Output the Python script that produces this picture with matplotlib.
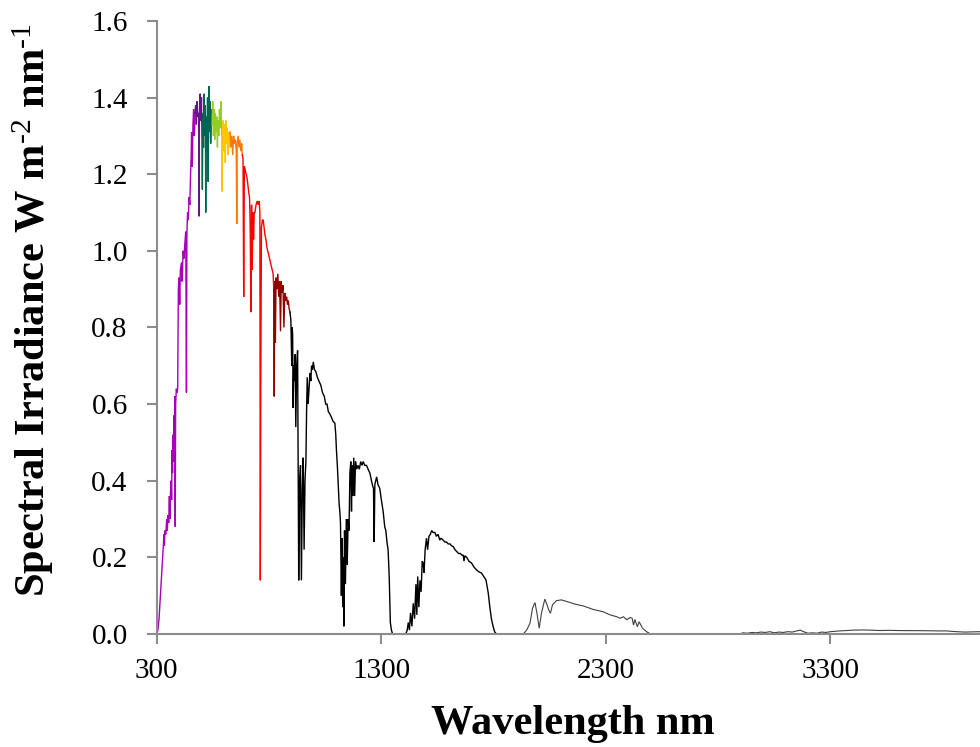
import matplotlib
matplotlib.use("Agg")
import matplotlib.pyplot as plt
import numpy as np

# Spectrum (wavelength nm, irradiance W m^-2 nm^-1)
wavelength = [
    300, 305, 310, 315, 320, 325, 328, 332, 334, 336, 340, 344, 347, 350, 353, 356, 358, 361, 364, 366,
    368, 370, 372, 374, 376, 378, 380, 382, 384, 387, 390, 393, 396, 399, 402, 405, 410, 413, 417, 421,
    425, 429, 432, 434, 437, 440, 444, 447, 450, 453, 455, 458, 461, 464, 467, 470,
    473, 476, 479, 482, 486, 488, 490, 493, 496, 499,
    501, 503, 505, 508, 511, 514, 516, 518, 520, 523, 526, 529, 531, 533, 535, 537, 540, 543,
    546, 549, 552, 555, 558, 561, 564, 567, 570, 573, 576, 579, 582, 585, 588,
    590, 591, 593, 596, 599, 602, 605, 608, 611, 614, 617, 620, 623,
    626, 630, 634, 638, 642, 646, 650, 654, 656, 658, 662, 666, 670, 674, 678,
    681, 684, 687, 690, 694, 698, 702, 706, 710, 713, 716, 719, 722, 725, 728, 731, 734, 737, 742, 747,
    752, 756, 759, 761, 763, 766, 770, 774, 778, 782, 786, 790, 794, 798, 802, 806, 810, 814, 818,
    821, 823, 825, 828, 831, 835, 839, 843, 847, 851, 854, 858, 862, 866, 870, 874, 878, 882, 886, 889,
    893, 897, 901, 903, 905, 907, 910, 913, 916, 919, 923, 927, 929, 932, 936, 940, 944, 948, 952, 956,
    960, 964, 967, 970, 974, 978, 982, 986, 989, 993, 997, 1002, 1008, 1015, 1022, 1030, 1038, 1046,
    1052, 1058, 1064, 1070, 1078, 1085, 1093, 1097, 1100, 1104, 1108, 1112, 1115, 1118, 1122, 1125,
    1128, 1131, 1133, 1136, 1140, 1144, 1148, 1152, 1156, 1160, 1164, 1167, 1170, 1174, 1177, 1181,
    1185, 1190, 1196, 1202, 1208, 1214, 1219, 1226, 1234, 1241, 1249, 1256, 1262, 1265, 1268, 1271,
    1275, 1279, 1285, 1293, 1300, 1308, 1315, 1320, 1325, 1330, 1335, 1340, 1345, 1350, 1409, 1415,
    1420, 1425, 1430, 1436, 1442, 1448, 1454, 1458, 1462, 1467, 1472, 1477, 1482, 1486, 1490, 1495,
    1501, 1506, 1512, 1518, 1524, 1530, 1538, 1545, 1553, 1560, 1566, 1575, 1583, 1590, 1598, 1606,
    1613, 1620, 1628, 1636, 1644, 1652, 1660, 1665, 1668, 1672, 1680, 1690, 1702, 1712, 1724, 1735,
    1746, 1756, 1766, 1776, 1783, 1790, 1798, 1805, 1813, 1932, 1947, 1962, 1973, 1984, 1993, 2003,
    2013, 2028, 2038, 2046, 2053, 2062, 2080, 2102, 2130, 2162, 2200, 2244, 2288, 2318, 2348, 2363,
    2378, 2393, 2408, 2417, 2423, 2429, 2440, 2448, 2463, 2481, 2499, 2897, 2910, 2930, 2950, 2970,
    2990, 3010, 3030, 3050, 3070, 3090, 3110, 3130, 3150, 3166, 3180, 3200, 3220, 3240, 3260, 3280,
    3300, 3320, 3340, 3372, 3400, 3446, 3480, 3520, 3560, 3600, 3640, 3669, 3720, 3780, 3817, 3860,
    3900, 3966,
]
irradiance = [
    0.0, 0.01, 0.04, 0.09, 0.14, 0.19, 0.22, 0.26, 0.23, 0.27, 0.26, 0.30, 0.27, 0.31, 0.29, 0.36, 0.30, 0.37, 0.40, 0.35,
    0.48, 0.42, 0.52, 0.45, 0.57, 0.50, 0.62, 0.28, 0.60, 0.64, 0.63, 0.64, 0.90, 0.93, 0.86, 0.95, 0.97, 0.92, 1.00, 0.98,
    1.02, 1.05, 0.63, 1.04, 1.10, 1.08, 1.14, 1.12, 1.19, 1.25, 1.31, 1.22, 1.33, 1.37, 1.30, 1.36,
    1.38, 1.33, 1.39, 1.35, 1.36, 1.09, 1.37, 1.41, 1.34, 1.40,
    1.30, 1.16, 1.36, 1.27, 1.41, 1.30, 1.38, 1.10, 1.35, 1.26, 1.40, 1.18, 1.38, 1.43, 1.31, 1.39, 1.28, 1.37,
    1.33, 1.39, 1.30, 1.37, 1.29, 1.36, 1.31, 1.35, 1.27, 1.34, 1.30, 1.37, 1.32, 1.39, 1.33,
    1.30, 1.155, 1.30, 1.34, 1.26, 1.33, 1.23, 1.34, 1.28, 1.32, 1.25, 1.31, 1.27,
    1.31, 1.27, 1.30, 1.25, 1.30, 1.28, 1.29, 1.26, 1.07, 1.28, 1.30, 1.27, 1.29, 1.26, 1.28,
    1.25, 1.24, 0.88, 1.22, 1.21, 1.20, 1.19, 1.17, 1.15, 1.14, 1.06, 0.84, 1.12, 0.95, 1.10, 1.03, 1.10, 1.10, 1.12, 1.13,
    1.12, 1.13, 1.10, 0.14, 0.64, 1.06, 1.08, 1.08, 1.06, 1.04, 1.03, 1.01, 1.00, 0.99, 0.98, 0.97, 0.96, 0.95, 0.94,
    0.90, 0.62, 0.92, 0.76, 0.93, 0.90, 0.94, 0.88, 0.92, 0.79, 0.92, 0.89, 0.91, 0.80, 0.89, 0.87, 0.88, 0.86, 0.87, 0.85,
    0.84, 0.82, 0.70, 0.80, 0.78, 0.59, 0.70, 0.66, 0.73, 0.54, 0.70, 0.74, 0.52, 0.14, 0.40, 0.44, 0.14, 0.38, 0.46, 0.22,
    0.40, 0.45, 0.58, 0.67, 0.60, 0.64, 0.68, 0.66, 0.70, 0.69, 0.71, 0.69, 0.685, 0.67, 0.66, 0.65, 0.63, 0.62,
    0.60, 0.60, 0.58, 0.575, 0.565, 0.555, 0.55, 0.52, 0.48, 0.44, 0.39, 0.34, 0.32, 0.29, 0.10, 0.25,
    0.07, 0.20, 0.02, 0.27, 0.13, 0.30, 0.18, 0.30, 0.27, 0.42, 0.45, 0.32, 0.44, 0.36, 0.46, 0.36,
    0.45, 0.43, 0.44, 0.43, 0.45, 0.44, 0.45, 0.44, 0.44, 0.43, 0.42, 0.40, 0.385, 0.38, 0.24, 0.39,
    0.40, 0.41, 0.39, 0.38, 0.35, 0.32, 0.28, 0.27, 0.24, 0.22, 0.15, 0.03, 0.01, 0.0, 0.0, 0.01,
    0.03, 0.01, 0.055, 0.02, 0.08, 0.04, 0.13, 0.05, 0.15, 0.07, 0.14, 0.11, 0.19, 0.185, 0.16, 0.22,
    0.25, 0.22, 0.255, 0.26, 0.27, 0.265, 0.265, 0.255, 0.26, 0.245, 0.25, 0.245, 0.24, 0.24, 0.235, 0.235,
    0.23, 0.228, 0.22, 0.215, 0.21, 0.21, 0.205, 0.206, 0.19, 0.204, 0.20, 0.19, 0.185, 0.175, 0.167, 0.162,
    0.159, 0.15, 0.141, 0.107, 0.071, 0.04, 0.019, 0.005, 0.0, 0.0, 0.01, 0.028, 0.067, 0.082, 0.054, 0.015,
    0.054, 0.091, 0.076, 0.062, 0.054, 0.076, 0.087, 0.089, 0.084, 0.078, 0.073, 0.064, 0.058, 0.050, 0.045, 0.041,
    0.045, 0.037, 0.043, 0.041, 0.023, 0.038, 0.019, 0.032, 0.015, 0.006, 0.0, 0.0, 0.003, 0.002, 0.004, 0.003,
    0.005, 0.004, 0.006, 0.003, 0.005, 0.004, 0.006, 0.005, 0.008, 0.010, 0.006, 0.002, 0.003, 0.002, 0.005, 0.004,
    0.006, 0.007, 0.008, 0.009, 0.010, 0.0105, 0.010, 0.009, 0.0095, 0.009, 0.0088, 0.0087, 0.0085, 0.008, 0.008, 0.006,
    0.005, 0.006,
]

# colour bands (upper wavelength bound, colour)
band_upper = [470, 500, 545, 590, 625, 680, 820, 890, 1850, 5000]
band_colors = ["#A800B8", "#6A1488", "#00664F", "#99CC22", "#FFC600",
               "#FF7700", "#FF0000", "#900000", "#000000", "#404040"]
band_widths = [1.0, 1.0, 1.0, 1.0, 1.0, 1.0, 1.0, 1.0, 1.0, 0.8]

x_ticks = [300, 1300, 2300, 3300]
y_ticks = [0.0, 0.2, 0.4, 0.6, 0.8, 1.0, 1.2, 1.4, 1.6]

plt.rcParams["font.family"] = ["Liberation Serif", "DejaVu Serif"]
plt.rcParams["mathtext.fontset"] = "custom"
plt.rcParams["mathtext.rm"] = "Liberation Serif"
plt.rcParams["mathtext.default"] = "rm"

fig = plt.figure(figsize=(9.8, 7.47), dpi=100)
ax = fig.add_axes([0.160, 0.1513, 0.840, 0.8207])

wl = np.array(wavelength, dtype=float)
ir = np.array(irradiance, dtype=float)
lo = 0
for up, col, lw in zip(band_upper, band_colors, band_widths):
    idx = np.where((wl >= lo) & (wl < up))[0]
    if len(idx) == 0:
        lo = up
        continue
    end = min(idx[-1] + 2, len(wl))
    start = idx[0]
    ax.plot(wl[start:end], ir[start:end], color=col, lw=lw, solid_joinstyle="miter")
    lo = up

ax.set_xlim(300, 3966)
ax.set_ylim(0, 1.6)
ax.set_xticks(x_ticks)
ax.set_xticklabels([str(v) for v in x_ticks])
ax.set_yticks(y_ticks)
ax.set_yticklabels([f"{v:.1f}" for v in y_ticks])

for s in ["top", "right"]:
    ax.spines[s].set_visible(False)
for s in ["left", "bottom"]:
    ax.spines[s].set_color("#8c8c8c")
    ax.spines[s].set_linewidth(1.5)
ax.tick_params(axis="both", colors="#8c8c8c", labelcolor="black", width=1.5,
               length=7, direction="out", labelsize=21)
ax.tick_params(axis="y", pad=14)
ax.tick_params(axis="x", pad=10)

ax.set_xlabel("Wavelength nm", fontsize=30.5, fontweight="bold")
ax.xaxis.set_label_coords(0.505, -0.116)
ax.set_ylabel(r"Spectral Irradiance W m$^{\text{-2}}$ nm$^{\text{-1}}$",
              fontsize=30.5, fontweight="bold")
ax.yaxis.set_label_coords(-0.123, 0.528)

fig.savefig("out.png", dpi=100)
